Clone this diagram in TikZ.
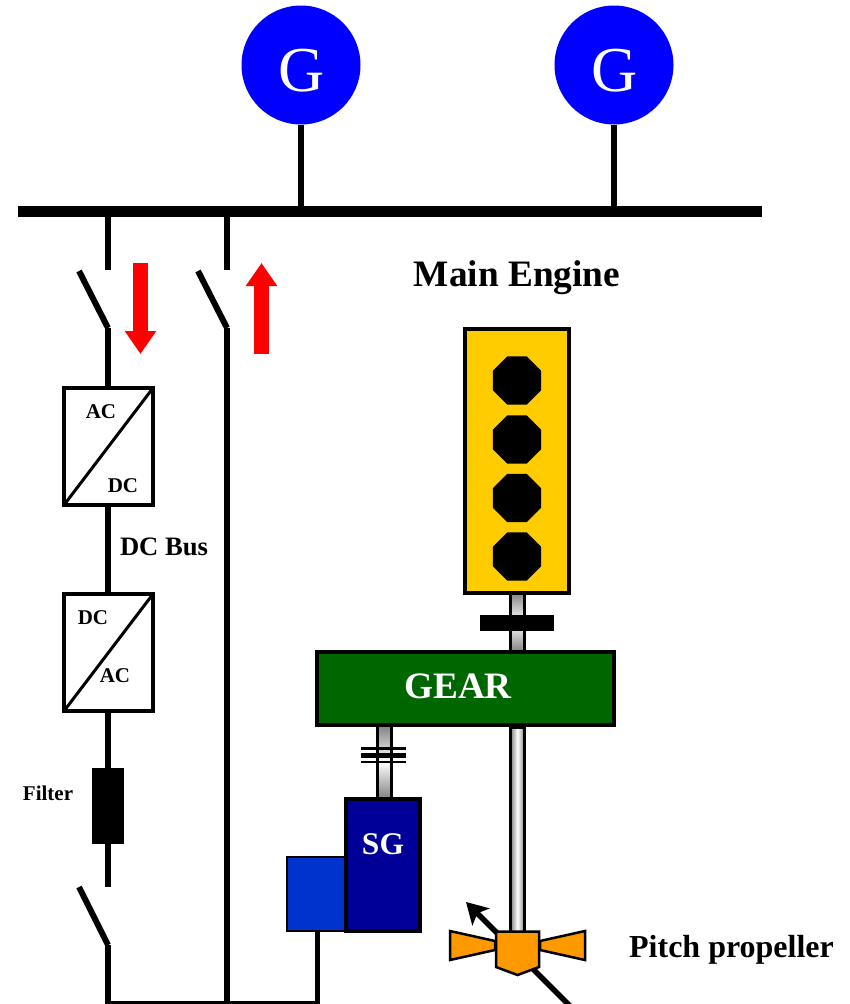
\documentclass[tikz,border=0pt]{standalone}
\usepackage{fontspec}
\setmainfont{Liberation Serif}
\usetikzlibrary{arrows.meta,shapes.geometric}
\definecolor{genblue}{HTML}{0000FF}
\definecolor{engyellow}{HTML}{FFCC00}
\definecolor{geargreen}{HTML}{006600}
\definecolor{sgblue}{HTML}{000099}
\definecolor{excblue}{HTML}{0033CC}
\definecolor{proporange}{HTML}{FF9900}
\definecolor{flowred}{HTML}{FF0000}
\definecolor{shaftgray}{HTML}{808080}
\tikzset{
  gen/.style={circle,fill=genblue,minimum size=119pt,inner sep=0pt,outer sep=0pt},
  gentext/.style={text=white,inner sep=0pt,outer sep=0pt,font=\fontsize{64}{64}\selectfont},
  wire/.style={line width=6pt,black},
  thinwire/.style={line width=4pt,black},
  blackbar/.style={rectangle,fill=black,inner sep=0pt,outer sep=0pt},
  conv/.style={rectangle,draw=black,fill=white,line width=4pt,minimum width=89pt,minimum height=117pt,inner sep=0pt,outer sep=0pt},
  lab/.style={inner sep=0pt,outer sep=0pt,font=\bfseries\fontsize{21}{21}\selectfont},
  biglab/.style={inner sep=0pt,outer sep=0pt,font=\bfseries\fontsize{37.3}{37.3}\selectfont},
  flow/.style={line width=15pt,flowred,-{Triangle[length=23pt,width=30pt]}},
  octa/.style={regular polygon,regular polygon sides=8,fill=black,minimum size=52pt,inner sep=0pt,outer sep=0pt},
  vshaft/.style={rectangle,draw=black,line width=3pt,top color=shaftgray,bottom color=shaftgray,middle color=white,minimum width=14pt,inner sep=0pt,outer sep=0pt},
  hshaft/.style={rectangle,draw=black,line width=3pt,left color=shaftgray,right color=shaftgray,middle color=white,minimum width=14pt,inner sep=0pt,outer sep=0pt},
  bluebox/.style={rectangle,draw=black,inner sep=0pt,outer sep=0pt,text=white},
  bladeshape/.style={draw=black,fill=proporange,line width=2.5pt,line join=miter},
}
\begin{document}
\begin{tikzpicture}[x=1pt,y=-1pt]
\clip (0,0) rectangle (849,1004);
% Bus and generators
\node[blackbar,minimum width=744pt,minimum height=11pt] (bus) at (390,211.5) {};
\node[gen] (g1) at (301,65) {};
\node[gen] (g2) at (614,65) {};
\node[gentext] (g1t) at (302,71) {G};
\node[gentext] (g2t) at (615,71) {G};
\draw[wire] (g1.south) -- (g1.south |- bus.north);
\draw[wire] (g2.south) -- (g2.south |- bus.north);
% Coordinates of the feeders
\coordinate (a1) at (108,217);
\coordinate (a2) at (108,270);
\coordinate (a3) at (79,271);
\coordinate (a4) at (108,328);
\coordinate (b1) at (227,217);
\coordinate (b2) at (227,270);
\coordinate (b3) at (198,271);
\coordinate (b4) at (227,328);
\coordinate (b5) at (227,1006);
\coordinate (c1) at (108,887);
\coordinate (c2) at (79,887);
\coordinate (c3) at (108,945);
\coordinate (c4) at (108,1006);
\coordinate (c5) at (108,1003);
\coordinate (c6) at (317,1003);
\coordinate (c7) at (317,1006);
% Converters
\node[conv] (conv1) at (108.5,446.5) {};
\node[conv] (conv2) at (108.5,652.5) {};
\draw[line width=3pt] (conv1.south west) -- (conv1.north east);
\draw[line width=3pt] (conv2.south west) -- (conv2.north east);
\node[lab] (l1) at (101,412) {AC};
\node[lab] (l2) at (123,486) {DC};
\node[lab] (l3) at (93,618) {DC};
\node[lab] (l4) at (115,676) {AC};
\node[blackbar,minimum width=32pt,minimum height=76pt] (filter) at (108,806) {};
\node[lab] (filterlab) at (48,793) {Filter};
\node[inner sep=0pt,outer sep=0pt,font=\bfseries\fontsize{26.6}{26.6}\selectfont] (dcbus) at (164,547) {DC Bus};
% Wires
\draw[wire] (a1) -- (a2);
\draw[wire] (a3) -- (a4);
\draw[wire] (a4) -- (conv1.north -| a4);
\draw[wire] (conv1.south -| a4) -- (conv2.north -| a4);
\draw[wire] (conv2.south -| a4) -- (filter.north);
\draw[wire] (filter.south) -- (c1);
\draw[wire] (c2) -- (c3);
\draw[wire] (c3) -- (c4);
\draw[wire] (b1) -- (b2);
\draw[wire] (b3) -- (b4);
\draw[wire] (b4) -- (b5);
\draw[thinwire] (c5) -- (c6);
% Red arrows
\coordinate (r1) at (140.5,263);
\coordinate (r2) at (140.5,354);
\coordinate (r3) at (261.5,354);
\coordinate (r4) at (261.5,263);
\draw[flow] (r1) -- (r2);
\draw[flow] (r3) -- (r4);
% Main engine
\node[biglab] (melab) at (517,278) {Main Engine};
% Shafts
\node[vshaft,minimum height=60pt] (s1) at (517.5,622) {};
\node[vshaft,minimum height=74pt] (s2) at (384,762) {};
\node[hshaft,minimum height=206pt] (s3) at (517.5,830) {};
\node[blackbar,minimum width=74pt,minimum height=16pt] (coupling) at (517,623) {};
\node[blackbar,minimum width=45pt,minimum height=3pt] (cp1) at (383.5,748.5) {};
\node[blackbar,minimum width=45pt,minimum height=5pt] (cp2) at (383.5,755.5) {};
\node[blackbar,minimum width=45pt,minimum height=2.5pt] (cp3) at (383.5,762) {};
% Engine
\node[rectangle,draw=black,fill=engyellow,line width=4pt,minimum width=104pt,minimum height=264pt,inner sep=0pt,outer sep=0pt] (engine) at (517,461) {};
\node[octa] (c1o) at (517,380.5) {};
\node[octa] (c2o) at (517,439.5) {};
\node[octa] (c3o) at (517,498) {};
\node[octa] (c4o) at (517,556.5) {};
% Gear
\node[rectangle,draw=black,fill=geargreen,line width=4pt,minimum width=297pt,minimum height=73pt,inner sep=0pt,outer sep=0pt] (gear) at (465.5,688.5) {};
\node[biglab,text=white] (gearlab) at (458,686) {GEAR};
% Generator set
\node[bluebox,fill=excblue,line width=2.5pt,minimum width=58pt,minimum height=74pt] (exc) at (316,894) {};
\node[bluebox,fill=sgblue,line width=4pt,minimum width=74pt,minimum height=132pt] (sg) at (383,865) {};
\node[inner sep=0pt,outer sep=0pt,text=white,font=\bfseries\fontsize{31.5}{31.5}\selectfont] (sglab) at (383,844) {SG};
\draw[line width=5pt] (exc.south -| c7) -- (c7);
% Propeller
\coordinate (p1) at (570,1006);
\coordinate (p2) at (466,902);
\draw[line width=5.5pt,-{Stealth[length=21pt,width=24pt,inset=5pt]}] (p1) -- (p2);
\draw[bladeshape] (450,931) -- (495,941) -- (495,950) -- (450,960) -- cycle;
\draw[bladeshape] (585,931) -- (540,941) -- (540,950) -- (585,960) -- cycle;
\draw[bladeshape] (496,931.5) -- (539,931.5) -- (539,967) -- (517.5,975) -- (496,967) -- cycle;
\node[inner sep=0pt,outer sep=0pt,font=\bfseries\fontsize{32}{32}\selectfont] (proplab) at (731.5,950) {Pitch propeller};
\end{tikzpicture}
\end{document}
